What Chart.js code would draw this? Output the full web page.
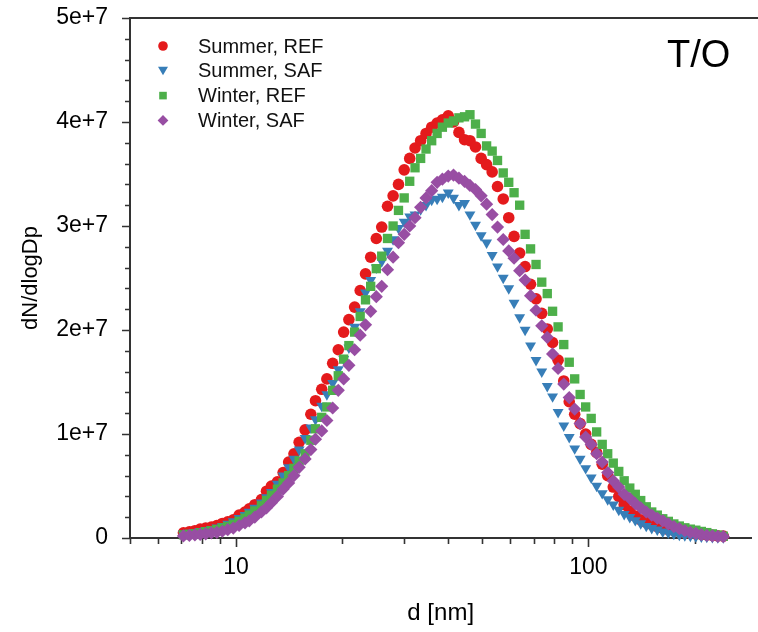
<!DOCTYPE html>
<html>
<head>
<meta charset="utf-8">
<title>T/O size distribution</title>
<script src="https://cdn.jsdelivr.net/npm/chart.js@4.4.1/dist/chart.umd.min.js"></script>
<style>
  html, body { margin: 0; padding: 0; background: #ffffff; }
  #wrap { position: relative; width: 758px; height: 632px; }
</style>
</head>
<body>
<div id="wrap"><canvas id="size-distribution"></canvas></div>
<script>
// Mobility diameter bins [nm], 64 channels per decade.
const diameters = [
  7.09, 7.37, 7.64, 7.91, 8.20, 8.51, 8.82, 9.14, 9.47, 9.82,
  10.2, 10.6, 10.9, 11.3, 11.8, 12.2, 12.6, 13.1, 13.6, 14.1,
  14.6, 15.1, 15.7, 16.3, 16.8, 17.5, 18.1, 18.8, 19.5, 20.2,
  20.9, 21.7, 22.5, 23.3, 24.1, 25.0, 25.9, 26.9, 27.9, 28.9,
  30.0, 31.1, 32.2, 33.4, 34.6, 35.9, 37.2, 38.5, 40.0, 41.4,
  42.9, 44.5, 46.1, 47.8, 49.6, 51.4, 53.3, 55.2, 57.3, 59.4,
  61.5, 63.8, 66.1, 68.5, 71.0, 73.7, 76.4, 79.1, 82.0, 85.1,
  88.2, 91.4, 94.7, 98.2, 101.8, 105.5, 109.4, 113.4, 117.6, 121.9,
  126.3, 131.0, 135.8, 140.7, 145.9, 151.2, 156.8, 162.5, 168.5, 174.7,
  181.1, 187.7, 194.6, 201.7, 209.1, 216.7, 224.7, 232.9, 241.4
];

// dN/dlogDp in units of 1e6, one value per bin.
const summerRef = [
  0.5, 0.6, 0.7, 0.85, 0.95, 1.05, 1.2, 1.4, 1.55, 1.75,
  2.2, 2.5, 2.8, 3.2, 3.7, 4.5, 5.0, 5.4, 6.3, 7.3,
  8.1, 9.2, 10.4, 11.9, 13.2, 14.3, 15.3, 16.8, 18.1, 19.8,
  21.0, 22.2, 23.8, 25.4, 27.0, 28.8, 29.9, 31.9, 32.9, 34.0,
  35.4, 36.5, 37.5, 38.2, 38.9, 39.5, 39.9, 40.2, 40.6, 40.0,
  39.0, 38.3, 38.2, 37.6, 36.5, 35.9, 35.2, 33.8, 32.6, 30.8,
  29.0, 27.4, 26.1, 24.4, 23.0, 21.6, 20.1, 18.8, 17.1, 15.1,
  13.1, 11.9, 11.0, 10.0, 9.0, 8.2, 7.1, 6.0, 4.9, 4.0,
  3.2, 2.6, 2.1, 1.75, 1.5, 1.3, 1.1, 0.95, 0.8, 0.7,
  0.6, 0.5, 0.45, 0.4, 0.35, 0.3, 0.25, 0.2, 0.18
];
const summerSaf = [
  0.4, 0.5, 0.55, 0.65, 0.75, 0.85, 1.0, 1.15, 1.35, 1.6,
  1.9, 2.2, 2.5, 2.9, 3.4, 3.9, 4.4, 5.2, 6.0, 6.8,
  7.6, 8.5, 9.6, 10.6, 11.4, 12.7, 13.8, 14.9, 16.2, 17.2,
  18.3, 20.3, 21.8, 23.6, 24.8, 26.0, 26.6, 27.6, 28.7, 29.8,
  30.4, 30.9, 31.1, 31.6, 32.0, 32.5, 32.6, 32.8, 33.2, 32.7,
  32.0, 32.2, 31.1, 30.1, 29.1, 28.4, 27.2, 26.1, 25.0, 24.0,
  22.6, 21.2, 20.0, 18.5, 17.1, 16.0, 14.6, 13.6, 12.1, 10.8,
  9.7, 8.6, 7.6, 6.7, 5.8, 5.0, 4.3, 3.7, 3.2, 2.7,
  2.3, 2.0, 1.7, 1.4, 1.15, 0.95, 0.8, 0.6, 0.5, 0.4,
  0.3, 0.25, 0.2, 0.15, 0.12, 0.1, 0.08, 0.06, 0.05
];
const winterRef = [
  0.3, 0.35, 0.4, 0.5, 0.6, 0.7, 0.8, 0.95, 1.1, 1.3,
  1.6, 1.9, 2.2, 2.6, 3.1, 3.6, 4.1, 4.7, 5.3, 6.0,
  6.7, 7.4, 8.1, 9.4, 10.5, 11.6, 12.6, 14.2, 15.6, 17.2,
  18.5, 19.8, 21.3, 22.9, 24.2, 25.9, 27.1, 28.8, 30.0, 31.5,
  32.7, 34.3, 35.6, 36.5, 37.4, 38.2, 38.9, 39.5, 39.9, 40.1,
  40.4, 40.5, 40.7, 39.8, 38.9, 37.7, 37.2, 36.3, 35.1, 34.2,
  33.2, 32.0, 29.2, 27.8, 26.3, 24.6, 23.5, 21.8, 20.3, 18.6,
  16.9, 15.3, 13.8, 12.6, 11.5, 10.2, 9.0, 8.1, 7.2, 6.4,
  5.5, 4.8, 4.2, 3.6, 3.0, 2.5, 2.2, 1.85, 1.6, 1.35,
  1.15, 0.98, 0.85, 0.75, 0.63, 0.52, 0.4, 0.28, 0.17
];
const winterSaf = [
  0.2, 0.25, 0.3, 0.35, 0.4, 0.5, 0.55, 0.65, 0.8, 0.95,
  1.2, 1.45, 1.65, 2.0, 2.5, 2.9, 3.4, 4.0, 4.7, 5.3,
  6.0, 6.8, 7.6, 8.5, 9.5, 10.3, 11.3, 12.5, 14.2, 15.3,
  16.6, 18.1, 19.5, 20.5, 21.8, 23.2, 24.2, 25.8, 27.0, 28.4,
  29.2, 30.0, 30.8, 31.8, 32.7, 33.4, 34.2, 34.5, 34.8, 34.9,
  34.6, 34.3, 33.9, 33.5, 32.9, 32.1, 31.1, 29.9, 28.7, 27.6,
  26.9, 25.7, 24.8, 23.3, 21.9, 20.4, 19.3, 17.7, 16.3, 14.8,
  13.5, 12.4, 11.0, 9.7, 9.0, 8.1, 7.3, 6.3, 5.5, 4.9,
  4.2, 3.8, 3.3, 2.9, 2.5, 2.2, 1.9, 1.65, 1.35, 1.1,
  0.9, 0.7, 0.55, 0.45, 0.32, 0.25, 0.2, 0.16, 0.13
];

const seriesLabels = ["Summer, REF", "Summer, SAF", "Winter, REF", "Winter, SAF"];
const seriesColors = ["#e41a1c", "#377eb8", "#4daf4a", "#984ea3"];

const xMajorTicks = [10, 100];
const xMinorTicks = [5, 6, 7, 8, 9, 20, 30, 40, 50, 60, 70, 80, 90, 200];
const yMajorTicks = [0, 1e7, 2e7, 3e7, 4e7, 5e7];
const yTickLabels = ["0", "1e+7", "2e+7", "3e+7", "4e+7", "5e+7"];
const yMinorTicks = [
  2e6, 4e6, 6e6, 8e6, 12e6, 14e6, 16e6, 18e6, 22e6, 24e6,
  26e6, 28e6, 32e6, 34e6, 36e6, 38e6, 42e6, 44e6, 46e6, 48e6
];

const FONT = "'Liberation Sans', Arial, Helvetica, sans-serif";
const AXIS_COLOR = "#333333";

const toPoints = (values) =>
  values.map((value, i) => ({ x: diameters[i], y: value * 1e6 }));

// Marker per series; purple ends up on top, red at the bottom.
const markerStyles = [
  { pointStyle: "circle", radius: 5.8, rotation: 0, order: 4 },
  { pointStyle: "triangle", radius: 6.3, rotation: 180, order: 3 },
  { pointStyle: "rect", radius: 6.6, rotation: 0, order: 2 },
  { pointStyle: "rectRot", radius: 6.6, rotation: 0, order: 1 }
];

function drawMarker(ctx, style, x, y, r) {
  ctx.beginPath();
  if (style === "circle") {
    ctx.arc(x, y, r, 0, Math.PI * 2);
  } else if (style === "triangle") {
    ctx.moveTo(x - r, y - r * 0.8);
    ctx.lineTo(x + r, y - r * 0.8);
    ctx.lineTo(x, y + r * 0.9);
    ctx.closePath();
  } else if (style === "rect") {
    ctx.rect(x - r, y - r, r * 2, r * 2);
  } else {
    ctx.moveTo(x, y - r);
    ctx.lineTo(x + r, y);
    ctx.lineTo(x, y + r);
    ctx.lineTo(x - r, y);
    ctx.closePath();
  }
  ctx.fill();
}

const decorPlugin = {
  id: "decor",
  beforeDatasetsDraw(chart) {
    const { ctx, chartArea, scales } = chart;
    ctx.save();
    ctx.strokeStyle = AXIS_COLOR;
    ctx.lineWidth = 1.6;
    ctx.beginPath();
    xMinorTicks.forEach((v) => {
      const px = Math.round(scales.x.getPixelForValue(v)) + 0.5;
      ctx.moveTo(px, chartArea.bottom);
      ctx.lineTo(px, chartArea.bottom + 6);
    });
    xMajorTicks.forEach((v) => {
      const px = Math.round(scales.x.getPixelForValue(v)) + 0.5;
      ctx.moveTo(px, chartArea.bottom);
      ctx.lineTo(px, chartArea.bottom + 9);
    });
    yMinorTicks.forEach((v) => {
      const py = Math.round(scales.y.getPixelForValue(v)) + 0.5;
      ctx.moveTo(chartArea.left, py);
      ctx.lineTo(chartArea.left - 5, py);
    });
    yMajorTicks.forEach((v) => {
      const py = Math.round(scales.y.getPixelForValue(v)) + 0.5;
      ctx.moveTo(chartArea.left, py);
      ctx.lineTo(chartArea.left - 8, py);
    });
    ctx.stroke();

    // frame line along the top of the plot
    ctx.lineWidth = 2;
    ctx.beginPath();
    ctx.moveTo(chartArea.left, chartArea.top);
    ctx.lineTo(chart.width, chartArea.top);
    ctx.stroke();
    ctx.restore();
  },
  afterDraw(chart) {
    const { ctx } = chart;
    ctx.save();
    ctx.textBaseline = "middle";
    ctx.textAlign = "left";
    ctx.font = `20px ${FONT}`;
    const legendSizes = [4.8, 5, 3.8, 5.4];
    seriesLabels.forEach((label, i) => {
      const y = 46 + i * 24.8;
      ctx.fillStyle = seriesColors[i];
      drawMarker(ctx, markerStyles[i].pointStyle, 163, y, legendSizes[i]);
      ctx.fillStyle = "#111111";
      ctx.fillText(label, 198, y + 1);
    });

    ctx.font = `38px ${FONT}`;
    ctx.fillStyle = "#000000";
    ctx.fillText("T/O", 667, 57);
    ctx.restore();
  }
};

new Chart(document.getElementById("size-distribution"), {
  type: "scatter",
  data: {
    datasets: [summerRef, summerSaf, winterRef, winterSaf].map((values, i) => ({
      label: seriesLabels[i],
      data: toPoints(values),
      showLine: false,
      pointStyle: markerStyles[i].pointStyle,
      pointRadius: markerStyles[i].radius,
      pointRotation: markerStyles[i].rotation,
      pointBackgroundColor: seriesColors[i],
      pointBorderWidth: 0,
      pointHoverRadius: markerStyles[i].radius,
      order: markerStyles[i].order,
      clip: false
    }))
  },
  options: {
    responsive: true,
    maintainAspectRatio: false,
    animation: false,
    events: [],
    layout: {
      padding: { top: 18, right: 0, bottom: 0, left: 0 }
    },
    plugins: {
      legend: { display: false },
      tooltip: { enabled: false }
    },
    scales: {
      x: {
        type: "logarithmic",
        position: "bottom",
        min: 5,
        max: 290,
        afterBuildTicks: (scale) => {
          scale.ticks = xMajorTicks.map((value) => ({ value }));
        },
        afterFit: (scale) => {
          scale.height = 94;
          scale.paddingLeft = 0;
          scale.paddingRight = 0;
        },
        grid: { display: false, drawTicks: false, tickLength: 0 },
        border: { display: true, color: AXIS_COLOR, width: 2 },
        ticks: {
          autoSkip: false,
          maxRotation: 0,
          padding: 16,
          color: "#000000",
          font: { family: FONT, size: 23 },
          callback: (value) => String(value)
        },
        title: {
          display: true,
          text: "d [nm]",
          color: "#000000",
          font: { family: FONT, size: 24 },
          padding: { top: 0, bottom: 4 }
        }
      },
      y: {
        type: "linear",
        position: "left",
        min: 0,
        max: 5e7,
        afterBuildTicks: (scale) => {
          scale.ticks = yMajorTicks.map((value) => ({ value }));
        },
        afterFit: (scale) => {
          scale.width = 130;
          // keep the plot top at the layout padding, not label height + padding
          scale.paddingTop = 0;
          scale.paddingBottom = 0;
        },
        grid: { display: false, drawTicks: false, tickLength: 0 },
        border: { display: true, color: AXIS_COLOR, width: 2 },
        ticks: {
          padding: 22,
          color: "#000000",
          font: { family: FONT, size: 23 },
          callback: (value) => yTickLabels[yMajorTicks.indexOf(value)]
        },
        title: {
          display: true,
          text: "dN/dlogDp",
          color: "#000000",
          font: { family: FONT, size: 22 },
          padding: { top: 18, bottom: 0 }
        }
      }
    }
  },
  plugins: [decorPlugin]
});
</script>
</body>
</html>
